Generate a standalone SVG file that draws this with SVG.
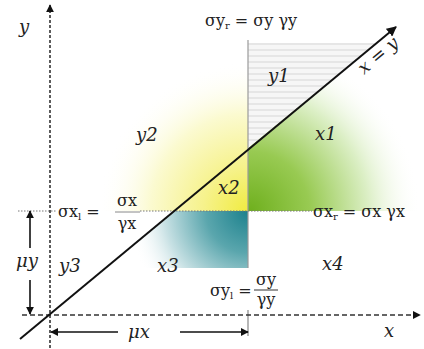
<svg xmlns="http://www.w3.org/2000/svg" width="424" height="349" viewBox="0 0 424 349">
<style>
.lbl{font-style:italic;font-size:18px;fill:#222}
.fm{font-size:16px;fill:#222}
.sub{font-size:10px}
.ax{fill:none;stroke:#333;stroke-width:1.6}
.arw{fill:none;stroke:#111;stroke-width:1.6}
.hat{stroke:#d6d6d6;stroke-width:1}
</style>
<defs>
<radialGradient id="gY" gradientUnits="userSpaceOnUse" cx="248" cy="211" r="150">
<stop offset="0" stop-color="#f0eb40"/>
<stop offset="0.3" stop-color="#f6f28c"/>
<stop offset="0.65" stop-color="#fbfad0"/>
<stop offset="1" stop-color="#ffffff" stop-opacity="0"/>
</radialGradient>
<radialGradient id="gG" gradientUnits="userSpaceOnUse" cx="250" cy="211" r="170">
<stop offset="0" stop-color="#6fb01e"/>
<stop offset="0.35" stop-color="#98ca52"/>
<stop offset="0.7" stop-color="#dcefc6"/>
<stop offset="1" stop-color="#ffffff" stop-opacity="0"/>
</radialGradient>
<radialGradient id="gT" gradientUnits="userSpaceOnUse" cx="248" cy="211" r="120">
<stop offset="0" stop-color="#1c818d"/>
<stop offset="0.35" stop-color="#5aa6ad"/>
<stop offset="0.7" stop-color="#c8e1e4"/>
<stop offset="1" stop-color="#ffffff" stop-opacity="0"/>
</radialGradient>
<marker id="ah" viewBox="0 0 10 10" refX="9" refY="5" markerWidth="8" markerHeight="8" markerUnits="userSpaceOnUse" orient="auto">
<path d="M0,0 L10,5 L0,10 z" fill="#111"/>
</marker>
<marker id="ahb" viewBox="0 0 10 10" refX="9" refY="5" markerWidth="10" markerHeight="10" markerUnits="userSpaceOnUse" orient="auto">
<path d="M0,0 L10,5 L0,10 z" fill="#111"/>
</marker>
</defs>
<rect width="424" height="349" fill="#ffffff"/>

<g id="region-y2x2">
<rect x="100" y="40" width="148" height="171" fill="url(#gY)"/>
</g>
<g id="region-x1">
<polygon points="248,148 394,27 424,27 424,211 248,211" fill="url(#gG)"/>
</g>
<g id="region-x3">
<polygon points="174,211 248,211 248,268 105,268" fill="url(#gT)"/>
</g>
<g id="region-y1">
<polygon points="248,43 376,43 248,148" fill="#f6f6f6"/>
<line class="hat" x1="248" y1="44" x2="375" y2="44"/>
<line class="hat" x1="248" y1="50" x2="368" y2="50"/>
<line class="hat" x1="248" y1="56" x2="361" y2="56"/>
<line class="hat" x1="248" y1="62" x2="354" y2="62"/>
<line class="hat" x1="248" y1="68" x2="346" y2="68"/>
<line class="hat" x1="248" y1="74" x2="339" y2="74"/>
<line class="hat" x1="248" y1="80" x2="332" y2="80"/>
<line class="hat" x1="248" y1="86" x2="325" y2="86"/>
<line class="hat" x1="248" y1="92" x2="317" y2="92"/>
<line class="hat" x1="248" y1="98" x2="310" y2="98"/>
<line class="hat" x1="248" y1="104" x2="303" y2="104"/>
<line class="hat" x1="248" y1="110" x2="296" y2="110"/>
<line class="hat" x1="248" y1="116" x2="288" y2="116"/>
<line class="hat" x1="248" y1="122" x2="281" y2="122"/>
<line class="hat" x1="248" y1="128" x2="274" y2="128"/>
<line class="hat" x1="248" y1="134" x2="267" y2="134"/>
<line class="hat" x1="248" y1="140" x2="259" y2="140"/>
</g>

<g id="connectors">
<line x1="248" y1="40" x2="248" y2="268" stroke="#9a9a9a" stroke-width="1.2"/>
<line x1="248" y1="310" x2="248" y2="336" stroke="#888" stroke-width="1.2"/>
<line x1="18" y1="211" x2="57" y2="211" stroke="#777" stroke-width="1" stroke-dasharray="1.5 1.5"/>
<line x1="140" y1="211" x2="312" y2="211" stroke="#777" stroke-width="1" stroke-dasharray="1.5 1.5"/>
<line x1="115" y1="212" x2="140" y2="212" stroke="#888" stroke-width="1"/>
<line x1="50" y1="348" x2="50" y2="5" class="ax" stroke-dasharray="3 2" marker-end="url(#ah)"/>
<line x1="22" y1="315" x2="420" y2="315" class="ax" stroke-dasharray="5 3" marker-end="url(#ah)"/>
<line x1="20" y1="339" x2="396" y2="27" stroke="#111" stroke-width="2" marker-end="url(#ahb)"/>
<line x1="30" y1="248" x2="30" y2="211" class="arw" marker-end="url(#ah)"/>
<line x1="30" y1="280" x2="30" y2="314" class="arw" marker-end="url(#ah)"/>
<line x1="118" y1="332" x2="51" y2="332" class="arw" marker-end="url(#ah)"/>
<line x1="180" y1="332" x2="248" y2="332" class="arw" marker-end="url(#ah)"/>
</g>

<g id="labels" font-family="DejaVu Serif, Liberation Serif, serif">
<text x="19" y="33" class="lbl" font-size="26">y</text>
<text x="384" y="337" class="lbl" font-size="24">x</text>
<text x="268" y="82" class="lbl">y1</text>
<text x="315" y="140" class="lbl">x1</text>
<text x="136" y="141" class="lbl">y2</text>
<text x="218" y="194" class="lbl">x2</text>
<text x="59" y="272" class="lbl">y3</text>
<text x="157" y="272" class="lbl">x3</text>
<text x="322" y="270" class="lbl">x4</text>
<text x="16" y="267" class="lbl" font-size="16">μy</text>
<text x="128" y="338" class="lbl" font-size="16">μx</text>
<text x="0" y="0" class="lbl" font-size="12" transform="translate(364,75) rotate(-40)">x = y</text>
</g>

<g id="formula-top" font-family="DejaVu Serif, Liberation Serif, serif">
<text x="205" y="26" class="fm">σy<tspan class="sub" dy="3">r</tspan><tspan dy="-3"> = σy γy</tspan></text>
</g>
<g id="formula-right" font-family="DejaVu Serif, Liberation Serif, serif">
<text x="313" y="217" class="fm">σx<tspan class="sub" dy="3">r</tspan><tspan dy="-3"> = σx γx</tspan></text>
</g>
<g id="formula-left" font-family="DejaVu Serif, Liberation Serif, serif">
<text x="58" y="217" class="fm">σx<tspan class="sub" dy="3">l</tspan><tspan dy="-3"> =</tspan></text>
<text x="127" y="206" class="fm" text-anchor="middle">σx</text>
<text x="127" y="229" class="fm" text-anchor="middle">γx</text>
</g>
<g id="formula-bottom" font-family="DejaVu Serif, Liberation Serif, serif">
<rect x="205" y="268" width="80" height="42" fill="#ffffff"/>
<text x="210" y="296" class="fm">σy<tspan class="sub" dy="3">l</tspan><tspan dy="-3"> =</tspan></text>
<line x1="254" y1="290" x2="278" y2="290" stroke="#333" stroke-width="1"/>
<text x="266" y="285" class="fm" text-anchor="middle">σy</text>
<text x="266" y="305" class="fm" text-anchor="middle">γy</text>
</g>
</svg>
